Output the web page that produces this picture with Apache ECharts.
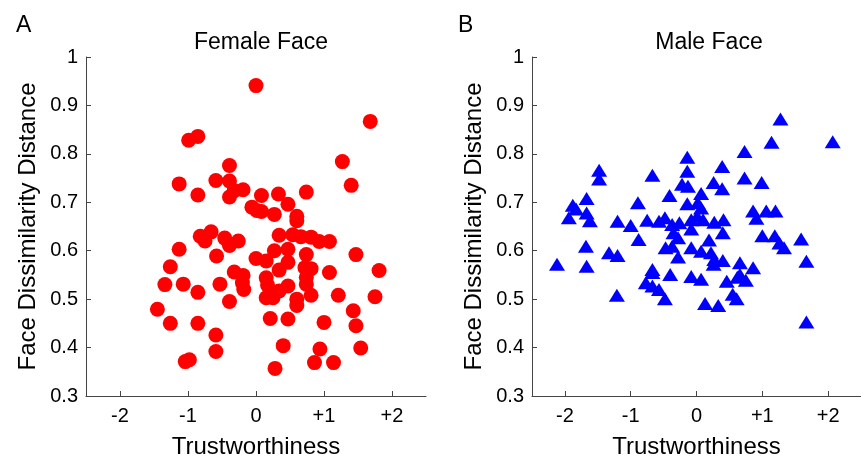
<!DOCTYPE html>
<html>
<head>
<meta charset="utf-8">
<script src="https://cdn.jsdelivr.net/npm/echarts@6/dist/echarts.min.js"></script>
<style>html,body{margin:0;padding:0;background:#fff;}#c{width:861px;height:464px;}</style>
</head>
<body>
<div id="c"></div>
<script>
const xTickValues = [-2, -1, 0, 1, 2];
const xTickLabels = ['-2', '-1', '0', '+1', '+2'];
const yTickValues = [0.3, 0.4, 0.5, 0.6, 0.7, 0.8, 0.9, 1];
const yTickLabels = ['0.3', '0.4', '0.5', '0.6', '0.7', '0.8', '0.9', '1'];

const femaleTrust = [0, 1.68, -0.99, -0.855, 1.27, -0.39, 1.40, -1.13, -0.59, -0.39,
  -0.855, -0.39, -0.32, -0.19, 0.08, 0.33, 0.74, -0.06, 0.01, 0.08,
  0.27, 0.47, 0.60, 0.60, -0.82, -0.75, -0.66, -0.58, -1.13, -0.46,
  -0.39, -0.26, 0.34, 0.54, 0.66, 0.81, 0.93, 1.08, 0.74, 1.47,
  1.81, 1.08, 0, 0.15, 0.27, 0.47, 0.47, 0.34, -1.26, -1.34,
  -1.07, -0.855, -0.53, -0.32, -0.19, -0.20, -0.18, -0.39, -1.45, -1.26,
  -0.855, -0.59, -0.59, -1.04, -0.98, 0.15, 0.17, 0.15, 0.25, 0.34,
  0.47, 0.60, 0.60, 0.72, 0.81, 0.74, 0.81, 1.21, 1.75, 0.21,
  0.47, 1.00, 1.43, 1.47, 0.40, 0.94, 1.54, 0.86, 1.14, 0.28, 0.74];
const femaleDist = [0.941, 0.867, 0.828, 0.836, 0.784, 0.776, 0.735, 0.738, 0.745, 0.744,
  0.715, 0.711, 0.724, 0.726, 0.714, 0.717, 0.721, 0.690, 0.683, 0.681,
  0.675, 0.696, 0.671, 0.662, 0.630, 0.620, 0.639, 0.589, 0.603, 0.626,
  0.611, 0.620, 0.632, 0.633, 0.629, 0.628, 0.619, 0.619, 0.592, 0.592,
  0.559, 0.555, 0.584, 0.579, 0.600, 0.603, 0.576, 0.560, 0.567, 0.530,
  0.531, 0.514, 0.531, 0.556, 0.549, 0.534, 0.520, 0.495, 0.479, 0.450,
  0.450, 0.426, 0.392, 0.371, 0.375, 0.544, 0.529, 0.503, 0.503, 0.517,
  0.527, 0.500, 0.487, 0.565, 0.563, 0.531, 0.508, 0.508, 0.505, 0.460,
  0.459, 0.452, 0.476, 0.445, 0.404, 0.397, 0.399, 0.369, 0.369, 0.357, 0.545];

const maleTrust = [1.276, 2.07, 1.14, 0.73, -0.14, -0.14, 0.39, -1.48, -1.48, -0.67,
  0.73, 0.99, 0.26, 0.39, -0.22, -0.13, 0.07, -0.41, -1.67, -1.88,
  -0.89, -0.14, 0.02, 0.07, -1.94, -1.83, -1.67, -1.62, -1.20, -1.00,
  -0.75, -0.57, -0.48, -0.37, -0.26, -0.08, -0.08, 0.01, 0.10, 0.27,
  0.41, 0.40, 0.86, 0.91, 1.06, 1.20, 1.00, 1.19, 1.26, 1.33,
  1.59, 1.67, 1.67, -0.88, -0.35, -0.28, -0.47, -0.37, -0.08, 0.19,
  0.07, -1.68, -1.33, -1.20, -0.28, 0.22, 0.27, 0.40, 0.26, -2.12,
  -1.67, -0.67, -0.40, 0.66, 0.86, -1.21, -0.77, -0.67, -0.57, -0.48,
  -0.08, 0.07, 0.46, 0.62, 0.75, 0.55, 0.61, 0.13, 0.33, -0.67, 0.66];
const maleDist = [0.872, 0.825, 0.824, 0.805, 0.793, 0.764, 0.774, 0.766, 0.748, 0.756,
  0.750, 0.741, 0.741, 0.728, 0.737, 0.733, 0.718, 0.714, 0.708, 0.694,
  0.699, 0.697, 0.699, 0.688, 0.668, 0.686, 0.678, 0.662, 0.661, 0.652,
  0.663, 0.661, 0.668, 0.654, 0.658, 0.664, 0.645, 0.671, 0.664, 0.659,
  0.664, 0.637, 0.682, 0.667, 0.682, 0.682, 0.631, 0.631, 0.616, 0.606,
  0.624, 0.578, 0.453, 0.623, 0.637, 0.627, 0.606, 0.609, 0.606, 0.622,
  0.599, 0.609, 0.596, 0.590, 0.587, 0.596, 0.582, 0.580, 0.572, 0.572,
  0.568, 0.561, 0.551, 0.575, 0.565, 0.508, 0.534, 0.527, 0.520, 0.501,
  0.547, 0.541, 0.537, 0.545, 0.539, 0.510, 0.501, 0.491, 0.487, 0.555, 0.551];

const pair = (xs, ys) => xs.map((x, i) => [x, ys[i]]);
const FONT = 'Liberation Sans, Arial, sans-serif';
const AXIS_COLOR = '#444';

function xAxis(gi) {
  return {
    gridIndex: gi, type: 'value', min: -2.5, max: 2.5,
    name: 'Trustworthiness', nameLocation: 'middle', nameGap: 39,
    nameTextStyle: { fontFamily: FONT, fontSize: 24, color: '#000' },
    axisLine: { show: true, onZero: false, lineStyle: { color: AXIS_COLOR, width: 1 } },
    axisTick: { show: true, inside: true, length: 5, customValues: xTickValues, lineStyle: { color: AXIS_COLOR } },
    axisLabel: { customValues: xTickValues, margin: 10, fontFamily: FONT, fontSize: 20, color: '#000',
      formatter: v => xTickLabels[xTickValues.indexOf(Math.round(v))] },
    splitLine: { show: false }
  };
}
function yAxis(gi) {
  return {
    gridIndex: gi, type: 'value', min: 0.3, max: 1,
    name: 'Face Dissimilarity Distance', nameLocation: 'middle', nameGap: 46, nameRotate: 90,
    nameTextStyle: { fontFamily: FONT, fontSize: 24, color: '#000' },
    axisLine: { show: true, onZero: false, lineStyle: { color: AXIS_COLOR, width: 1 } },
    axisTick: { show: true, inside: true, length: 5, customValues: yTickValues, lineStyle: { color: AXIS_COLOR } },
    axisLabel: { customValues: yTickValues, margin: 8, fontFamily: FONT, fontSize: 20, color: '#000',
      formatter: v => yTickLabels[yTickValues.findIndex(t => Math.abs(t - v) < 1e-6)] },
    splitLine: { show: false }
  };
}

const chart = echarts.init(document.getElementById('c'), null, { renderer: 'canvas' });
chart.setOption({
  animation: false,
  backgroundColor: '#fff',
  title: [
    { text: 'A', left: 11, top: 9, textStyle: { fontFamily: FONT, fontSize: 23, fontWeight: 'normal', color: '#000' } },
    { text: 'B', left: 453, top: 9, textStyle: { fontFamily: FONT, fontSize: 23, fontWeight: 'normal', color: '#000' } },
    { text: 'Female Face', left: 256, top: 26, textAlign: 'center', textStyle: { fontFamily: FONT, fontSize: 23, fontWeight: 'normal', color: '#000' } },
    { text: 'Male Face', left: 704, top: 26, textAlign: 'center', textStyle: { fontFamily: FONT, fontSize: 23, fontWeight: 'normal', color: '#000' } }
  ],
  grid: [
    { left: 86, right: 435, top: 57, bottom: 67, containLabel: false },
    { left: 532, right: -10, top: 57, bottom: 67, containLabel: false }
  ],
  xAxis: [xAxis(0), xAxis(1)],
  yAxis: [yAxis(0), yAxis(1)],
  series: [
    { type: 'scatter', xAxisIndex: 0, yAxisIndex: 0, symbol: 'circle', symbolSize: 15,
      itemStyle: { color: '#ff0000', opacity: 1 }, data: pair(femaleTrust, femaleDist) },
    { type: 'scatter', xAxisIndex: 1, yAxisIndex: 1, symbol: 'triangle', symbolSize: [16, 13],
      itemStyle: { color: '#0000ff', opacity: 1 }, data: pair(maleTrust, maleDist) }
  ]
});
</script>
</body>
</html>
